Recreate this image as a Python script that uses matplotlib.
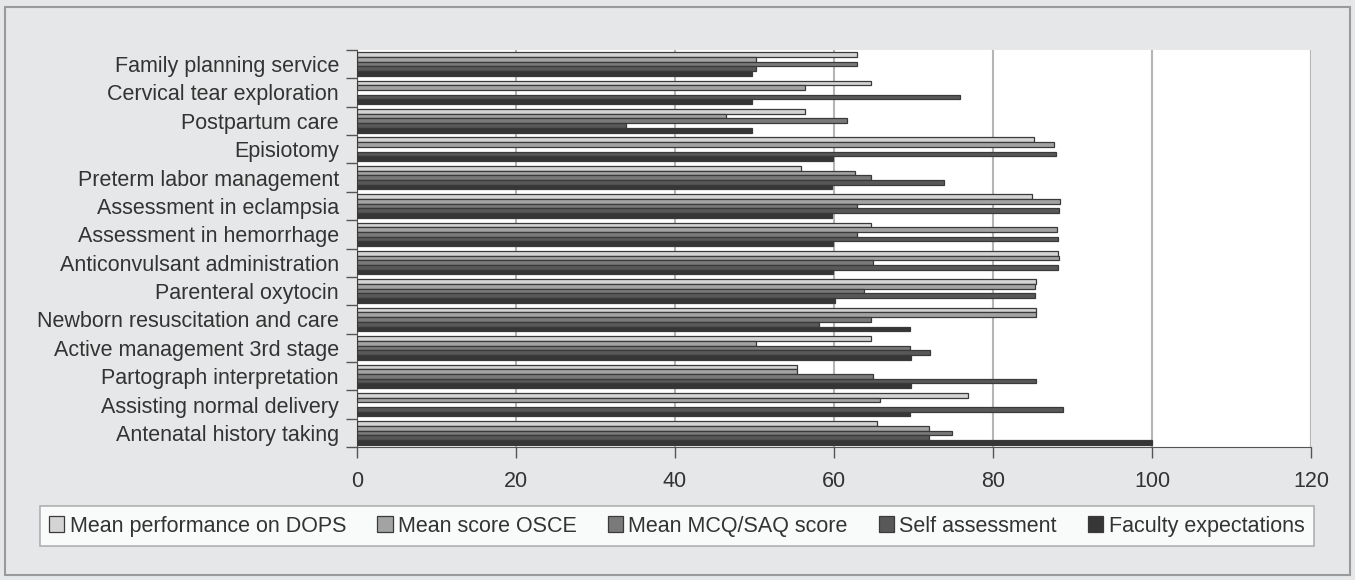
import numpy as np
import matplotlib
matplotlib.use('Agg')
from matplotlib import pyplot as plt
from matplotlib.patches import Rectangle

plt.rcParams['font.family'] = ['Liberation Sans', 'DejaVu Sans']

# categories, top to bottom as in the chart
skills = ['Family planning service', 'Cervical tear exploration', 'Postpartum care',
          'Episiotomy', 'Preterm labor management', 'Assessment in eclampsia',
          'Assessment in hemorrhage', 'Anticonvulsant administration',
          'Parenteral oxytocin', 'Newborn resuscitation and care',
          'Active management 3rd stage', 'Partograph interpretation',
          'Assisting normal delivery', 'Antenatal history taking']

dops = [62.9, 64.7, 56.4, 85.1, 55.8, 84.9, 64.6, 88.2, 85.4, 85.4, 64.6, 55.3, 76.8, 65.4]
osce = [50.2, 56.4, 46.4, 87.7, 62.7, 88.4, 88.1, 88.3, 85.3, 85.4, 50.2, 55.3, 65.8, 71.9]
mcq = [62.9, np.nan, 61.6, np.nan, 64.7, 62.9, 62.9, 64.9, 63.8, 64.7, 69.6, 64.9, np.nan, 74.8]
self_ass = [50.2, 75.9, 33.8, 87.9, 73.9, 88.3, 88.2, 88.2, 85.3, 58.1, 72.1, 85.4, 88.8, 72.0]
faculty = [49.7, 49.7, 49.7, 59.9, 59.7, 59.7, 59.9, 59.9, 60.1, 69.5, 69.7, 69.7, 69.6, 100.0]

series = [('Mean performance on DOPS', dops, '#d4d4d4'),
          ('Mean score OSCE', osce, '#a3a3a3'),
          ('Mean MCQ/SAQ score', mcq, '#7a7a7a'),
          ('Self assessment', self_ass, '#585858'),
          ('Faculty expectations', faculty, '#363636')]

fs = 15.5
bg = '#e6e7e8'
fig = plt.figure(figsize=(13.55, 5.8), dpi=100, facecolor=bg)
ax = fig.add_axes([0.2635, 0.229, 0.704, 0.685])
ax.set_facecolor('white')

y = np.arange(len(skills))
h = 0.165
for k, (name, vals, col) in enumerate(series):
    ax.barh(y + (k - 2) * h, vals, height=h, color=col, edgecolor='#3a3a3a',
            linewidth=0.9, label=name, zorder=3)

ax.set_xlim(0, 120)
ax.set_ylim(len(skills) - 0.5, -0.5)
ax.set_xticks(range(0, 121, 20))
ax.set_yticks(y)
ax.set_yticklabels(skills, fontsize=fs, color='#333333')
ax.set_yticks(np.arange(-0.5, len(skills), 1), minor=True)
ax.tick_params(axis='y', which='major', length=0, pad=13)
ax.tick_params(axis='y', which='minor', length=8, width=1, color='#555555')
ax.tick_params(axis='x', length=8, width=1, color='#555555', labelsize=fs,
               labelcolor='#333333', pad=9)
ax.grid(axis='x', color='#b5b5b5', linewidth=1.5, zorder=0)

for s in ['top', 'right']:
    ax.spines[s].set_visible(False)
ax.spines['left'].set_color('#555555')
ax.spines['bottom'].set_color('#555555')

leg = fig.legend(loc='center', bbox_to_anchor=(0.4995, 0.093), ncol=5, fontsize=fs,
                 frameon=True, fancybox=False, edgecolor='#a0a0a0',
                 handlelength=0.7, handleheight=0.7, handletextpad=0.25,
                 columnspacing=1.45, borderpad=0.45)
leg.get_frame().set_linewidth(1.2)
for t in leg.get_texts():
    t.set_color('#333333')

# outer frame around the whole chart
fig.patches.append(Rectangle((0.004, 0.008), 0.992, 0.98, transform=fig.transFigure,
                             fill=False, edgecolor='#9a9a9a', linewidth=1.5))

fig.savefig('out.png', dpi=100, facecolor=bg)
